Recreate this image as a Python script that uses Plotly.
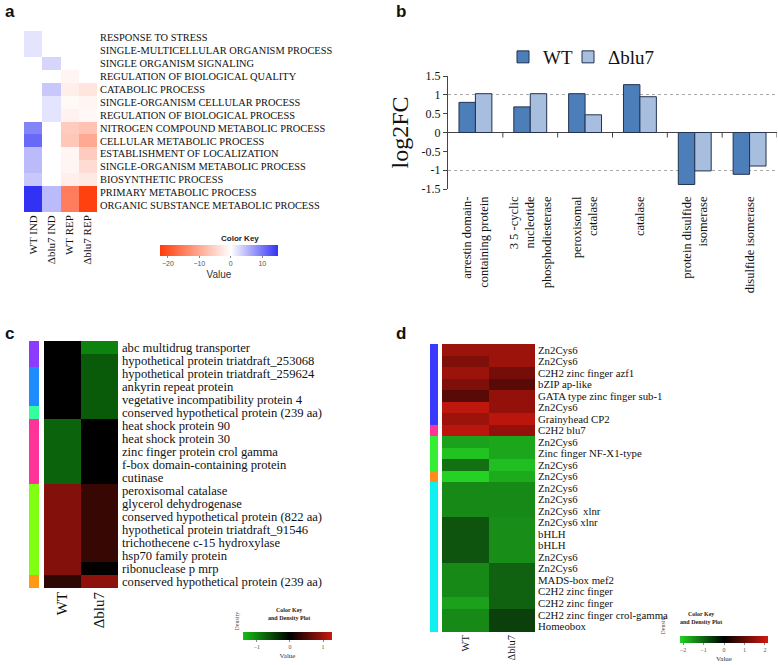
import plotly.graph_objects as go

W, H = 778, 665
SERIF = "Liberation Serif"
SANS = "Liberation Sans"

def px(x):
    return x / W

def py(y):
    return 1 - y / H

# ---------------- Panel a data ----------------
a_terms = [
    "RESPONSE TO STRESS",
    "SINGLE-MULTICELLULAR ORGANISM PROCESS",
    "SINGLE ORGANISM SIGNALING",
    "REGULATION OF BIOLOGICAL QUALITY",
    "CATABOLIC PROCESS",
    "SINGLE-ORGANISM CELLULAR PROCESS",
    "REGULATION OF BIOLOGICAL PROCESS",
    "NITROGEN COMPOUND METABOLIC PROCESS",
    "CELLULAR METABOLIC PROCESS",
    "ESTABLISHMENT OF LOCALIZATION",
    "SINGLE-ORGANISM METABOLIC PROCESS",
    "BIOSYNTHETIC PROCESS",
    "PRIMARY METABOLIC PROCESS",
    "ORGANIC SUBSTANCE METABOLIC PROCESS",
]
a_conditions = ["WT IND", "Δblu7 IND", "WT REP", "Δblu7 REP"]
a_wt_ind = [2, 2, None, None, None, None, None, 9, 11, 5, 5, 4, 15, 15]
a_blu7_ind = [None, None, 3, None, 4, 2, 2, None, None, None, None, None, 5, 5]
a_wt_rep = [None, None, None, -1, -2, -0.7, -1.5, -6, -6.5, -1, -1, -2, -15, -15]
a_blu7_rep = [None, None, None, None, -3, -1, -0.8, -7, -10, -6, -4, -2.5, -22, -22]
a_key_ticks = [-20, -10, 0, 10]

# ---------------- Panel b data ----------------
b_categories = [
    "arrestin domain-<br>containing protein",
    "3 5 -cyclic<br>nucleotide<br>phosphodiesterase",
    "peroxisomal<br>catalase",
    "catalase",
    "protein disulfide<br>isomerase",
    "disulfide isomerase",
]
b_wt = [0.80, 0.68, 1.03, 1.27, -1.38, -1.11]
b_blu7 = [1.03, 1.03, 0.47, 0.95, -1.02, -0.89]
b_yticks = [-1.5, -1, -0.5, 0, 0.5, 1, 1.5]
b_yticktext = ["-1.5", "-1", "-0.5", "0", "0.5", "1", "1.5"]

# ---------------- Panel c data ----------------
c_genes = [
    "abc multidrug transporter",
    "hypothetical protein triatdraft_253068",
    "hypothetical protein triatdraft_259624",
    "ankyrin repeat protein",
    "vegetative incompatibility protein 4",
    "conserved hypothetical protein (239 aa)",
    "heat shock protein 90",
    "heat shock protein 30",
    "zinc finger protein crol gamma",
    "f-box domain-containing protein",
    "cutinase",
    "peroxisomal catalase",
    "glycerol dehydrogenase",
    "conserved hypothetical protein (822 aa)",
    "hypothetical protein triatdraft_91546",
    "trichothecene c-15 hydroxylase",
    "hsp70 family protein",
    "ribonuclease p mrp",
    "conserved hypothetical protein (239 aa)",
]
c_wt = [0.0, 0.0, 0.0, 0.0, 0.0, 0.0, -0.75, -0.75, -0.75, -0.75, -0.75,
        0.83, 0.83, 0.83, 0.83, 0.83, 0.83, 0.83, 0.29]
c_blu7 = [-0.97, -0.67, -0.67, -0.67, -0.67, -0.67, 0.0, 0.0, 0.0, 0.0, 0.0,
          0.35, 0.35, 0.35, 0.35, 0.35, 0.35, 0.02, 0.89]
c_groups = [0, 0, 1, 1, 1, 2, 3, 3, 3, 3, 3, 4, 4, 4, 4, 4, 4, 4, 5]
c_group_colors = ["#8C3CFF", "#1E8CFF", "#33FFA0", "#FF3399", "#80FF10", "#FF9912"]
c_samples = ["WT", "Δblu7"]
c_key_ticks = [-1, 0, 1]

# ---------------- Panel d data ----------------
d_genes = [
    "Zn2Cys6", "Zn2Cys6", "C2H2 zinc finger azf1", "bZIP ap-like",
    "GATA type zinc finger sub-1", "Zn2Cys6", "Grainyhead CP2", "C2H2 blu7",
    "Zn2Cys6", "Zinc finger NF-X1-type", "Zn2Cys6", "Zn2Cys6",
    "Zn2Cys6", "Zn2Cys6", "Zn2Cys6  xlnr", "Zn2Cys6 xlnr", "bHLH", "bHLH",
    "Zn2Cys6", "Zn2Cys6", "MADS-box mef2", "C2H2 zinc finger", "C2H2 zinc finger",
    "C2H2 zinc finger crol-gamma", "Homeobox",
]
d_wt = [1.6, 1.3, 1.6, 1.3, 0.9, 1.95, 1.6, 1.9,
        -1.65, -2.0, -1.15, -2.15,
        -1.4, -1.4, -1.4, -0.85, -0.85, -0.85, -0.85, -1.4, -1.4, -1.4, -1.65, -1.4, -1.4]
d_blu7 = [1.6, 1.6, 1.2, 0.9, 1.5, 1.5, 1.9, 1.5,
          -1.7, -1.7, -1.95, -1.75,
          -1.4, -1.4, -1.4, -1.45, -1.45, -1.45, -1.45, -1.0, -1.0, -1.0, -1.0, -0.65, -0.65]
d_groups = [0] * 7 + [1] + [2] * 3 + [3] + [4] * 13
d_group_colors = ["#3A3AFF", "#FF3399", "#33EE33", "#FF8C1A", "#10F0F0"]
d_samples = ["WT", "Δblu7"]
d_key_ticks = [-2, -1, 0, 1, 2]


def discrete_scale(colors):
    k = len(colors)
    scale = []
    for i, c in enumerate(colors):
        scale.append([i / k, c])
        scale.append([(i + 1) / k, c])
    return scale


def hkey(x0, x1, y0, y1, ticks, fam, fs, tcol, tfs):
    return dict(
        orientation="h", x=px(x0), xanchor="left", y=py(y0), yanchor="top",
        lenmode="pixels", len=x1 - x0, thicknessmode="pixels", thickness=y1 - y0,
        xpad=0, ypad=0, outlinewidth=0, tickvals=ticks, ticks="outside", ticklen=2,
        tickcolor="#888", tickfont=dict(family=fam, size=fs, color=tcol),
        title=dict(text="Value", side="bottom", font=dict(family=fam, size=tfs, color="#333")),
    )


fig = go.Figure()

# ---- Panel a heatmap ----
a_z = [[a_wt_ind[i], a_blu7_ind[i], a_wt_rep[i], a_blu7_rep[i]] for i in range(len(a_terms))]
a_scale = [[0, "rgb(255,60,10)"], [22.5 / 37.5, "rgb(255,255,255)"], [1, "rgb(50,50,245)"]]
fig.add_trace(go.Heatmap(
    z=a_z, x=list(range(len(a_conditions))), y=list(range(len(a_terms))),
    colorscale=a_scale, zmin=-22.5, zmax=15, xaxis="x", yaxis="y",
    colorbar=hkey(160, 278, 245, 256, a_key_ticks, SANS, 7, "#555", 10),
    hoverinfo="skip", showlegend=False,
))

# ---- Panel c side + heatmap ----
fig.add_trace(go.Heatmap(
    z=[[g] for g in c_groups], x=[0], y=list(range(len(c_genes))),
    colorscale=discrete_scale(c_group_colors), zmin=-0.5, zmax=len(c_group_colors) - 0.5,
    showscale=False, xaxis="x2", yaxis="y2", hoverinfo="skip", showlegend=False,
))
c_scale = [[0, "rgb(20,190,20)"], [1.42 / 2.69, "rgb(0,0,0)"], [1, "rgb(200,25,15)"]]
fig.add_trace(go.Heatmap(
    z=[[c_wt[i], c_blu7[i]] for i in range(len(c_genes))], x=[0, 1], y=list(range(len(c_genes))),
    colorscale=c_scale, zmin=-1.42, zmax=1.27, xaxis="x3", yaxis="y3",
    colorbar=hkey(243, 332, 632, 640, c_key_ticks, SERIF, 6, "#555", 7), hoverinfo="skip",
    showlegend=False,
))

# ---- Panel d side + heatmap ----
fig.add_trace(go.Heatmap(
    z=[[g] for g in d_groups], x=[0], y=list(range(len(d_genes))),
    colorscale=discrete_scale(d_group_colors), zmin=-0.5, zmax=len(d_group_colors) - 0.5,
    showscale=False, xaxis="x4", yaxis="y4", hoverinfo="skip", showlegend=False,
))
d_scale = [[0, "rgb(35,210,35)"], [0.5, "rgb(0,0,0)"], [1, "rgb(210,25,15)"]]
fig.add_trace(go.Heatmap(
    z=[[d_wt[i], d_blu7[i]] for i in range(len(d_genes))], x=[0, 1], y=list(range(len(d_genes))),
    colorscale=d_scale, zmin=-2.15, zmax=2.15, xaxis="x5", yaxis="y5",
    colorbar=hkey(680, 768, 636, 643, d_key_ticks, SERIF, 6, "#555", 7), hoverinfo="skip",
    showlegend=False,
))

# ---- Panel b bars ----
b_x = list(range(len(b_categories)))
fig.add_trace(go.Bar(x=b_x, y=b_wt, name="WT", xaxis="x6", yaxis="y6", legend="legend",
                     marker=dict(color="#4C7EBA", line=dict(color="#22324F", width=1))))
fig.add_trace(go.Bar(x=b_x, y=b_blu7, name="Δblu7", xaxis="x6", yaxis="y6", legend="legend2",
                     marker=dict(color="#A8BEDF", line=dict(color="#22324F", width=1))))

hidden = dict(showgrid=False, zeroline=False, showline=False, ticks="", automargin=False)
legend_font = dict(family=SERIF, size=19, color="#111")

layout = dict(
    width=W, height=H, margin=dict(l=0, r=0, t=0, b=0, autoexpand=False),
    paper_bgcolor="white", plot_bgcolor="rgba(0,0,0,0)",
    barmode="group", bargap=0.4, bargroupgap=0,
    showlegend=True,
    legend=dict(x=px(503), y=py(38), xanchor="left", yanchor="top", font=legend_font,
                itemwidth=30, bgcolor="rgba(0,0,0,0)"),
    legend2=dict(x=px(568), y=py(38), xanchor="left", yanchor="top", font=legend_font,
                 itemwidth=30, bgcolor="rgba(0,0,0,0)"),
    # panel a
    xaxis=dict(domain=[px(24), px(97)], anchor="y", range=[-0.5, 3.5],
               tickvals=list(range(len(a_conditions))), ticktext=a_conditions, tickangle=-90,
               tickfont=dict(family=SERIF, size=11, color="#111"), **hidden),
    yaxis=dict(domain=[py(212), py(31)], anchor="x", range=[len(a_terms) - 0.5, -0.5],
               side="right", tickvals=list(range(len(a_terms))), ticktext=a_terms,
               tickfont=dict(family=SERIF, size=10.4, color="#111"), ticklabelstandoff=2, **hidden),
    # panel c side
    xaxis2=dict(domain=[px(29), px(39)], anchor="y2", range=[-0.5, 0.5], showticklabels=False, **hidden),
    yaxis2=dict(domain=[py(588), py(341)], anchor="x2", range=[len(c_genes) - 0.5, -0.5],
                showticklabels=False, **hidden),
    # panel c heat
    xaxis3=dict(domain=[px(44), px(118)], anchor="y3", range=[-0.5, 1.5],
                tickvals=[0, 1], ticktext=c_samples, tickangle=-90,
                tickfont=dict(family=SERIF, size=15, color="#111"), **hidden),
    yaxis3=dict(domain=[py(588), py(341)], anchor="x3", range=[len(c_genes) - 0.5, -0.5],
                side="right", tickvals=list(range(len(c_genes))), ticktext=c_genes,
                tickfont=dict(family=SERIF, size=12.6, color="#111"), ticklabelstandoff=3, **hidden),
    # panel d side
    xaxis4=dict(domain=[px(430), px(438)], anchor="y4", range=[-0.5, 0.5], showticklabels=False, **hidden),
    yaxis4=dict(domain=[py(632), py(344)], anchor="x4", range=[len(d_genes) - 0.5, -0.5],
                showticklabels=False, **hidden),
    # panel d heat
    xaxis5=dict(domain=[px(442), px(535)], anchor="y5", range=[-0.5, 1.5],
                tickvals=[0, 1], ticktext=d_samples, tickangle=-90,
                tickfont=dict(family=SERIF, size=10.5, color="#111"), **hidden),
    yaxis5=dict(domain=[py(632), py(344)], anchor="x5", range=[len(d_genes) - 0.5, -0.5],
                side="right", tickvals=list(range(len(d_genes))), ticktext=d_genes,
                tickfont=dict(family=SERIF, size=10.8, color="#111"), ticklabelstandoff=2, **hidden),
    # panel b
    xaxis6=dict(domain=[px(448), px(777)], anchor="y6", range=[-0.5, len(b_categories) - 0.5],
                tickvals=b_x, ticktext=b_categories, tickangle=-90,
                tickfont=dict(family=SERIF, size=12.5, color="#111"), ticklabelstandoff=4, **hidden),
    yaxis6=dict(domain=[py(189), py(76)], anchor="x6", range=[-1.5, 1.5], automargin=False,
                tickvals=b_yticks, ticktext=b_yticktext, showgrid=False,
                zeroline=True, zerolinecolor="#444", zerolinewidth=1,
                showline=True, linecolor="#444", linewidth=1, ticks="outside", ticklen=4,
                tickcolor="#444", tickfont=dict(family=SERIF, size=12, color="#111"),
                minor=dict(tickvals=[-1, 1], showgrid=True, gridcolor="#aaa", griddash="dot",
                           gridwidth=1, ticks=""),
                title=dict(text="log2FC", font=dict(family=SERIF, size=24, color="#111"), standoff=6)),
)
fig.update_layout(**layout)

# category boundary tick marks on the zero line of panel b
for i in range(len(b_categories)):
    fig.add_shape(type="line", xref="x6", yref="y6", x0=i + 0.5, x1=i + 0.5,
                  ysizemode="pixel", yanchor=0, y0=0, y1=-5,
                  line=dict(color="#444", width=1))

# panel letters
for letter, (x, y) in {"a": (3, 12), "b": (394, 12), "c": (3, 333), "d": (394, 333)}.items():
    fig.add_annotation(text="<b>%s</b>" % letter, x=px(x), y=py(y), xref="paper", yref="paper",
                       xanchor="left", yanchor="middle", showarrow=False,
                       font=dict(family=SANS, size=17, color="#111"))

# colour key titles
fig.add_annotation(text="<b>Color Key</b>", x=px(219), y=py(238), xref="paper", yref="paper",
                   showarrow=False, font=dict(family=SANS, size=8, color="#222"))
for cx, cy in [(289, 623), (724, 627)]:
    fig.add_annotation(text="<b>Color Key<br>and Density Plot</b>", x=px(cx), y=py(cy),
                       xref="paper", yref="paper", showarrow=False,
                       font=dict(family=SERIF, size=6, color="#222"))
for dx, dy in [(231, 633), (667, 637)]:
    fig.add_annotation(text="Density", x=px(dx), y=py(dy), xref="paper", yref="paper",
                       textangle=-90, showarrow=False, font=dict(family=SERIF, size=6, color="#555"))

fig.write_html("out.html", config={"displayModeBar": False},
               post_script="document.body.style.margin='0px';")
